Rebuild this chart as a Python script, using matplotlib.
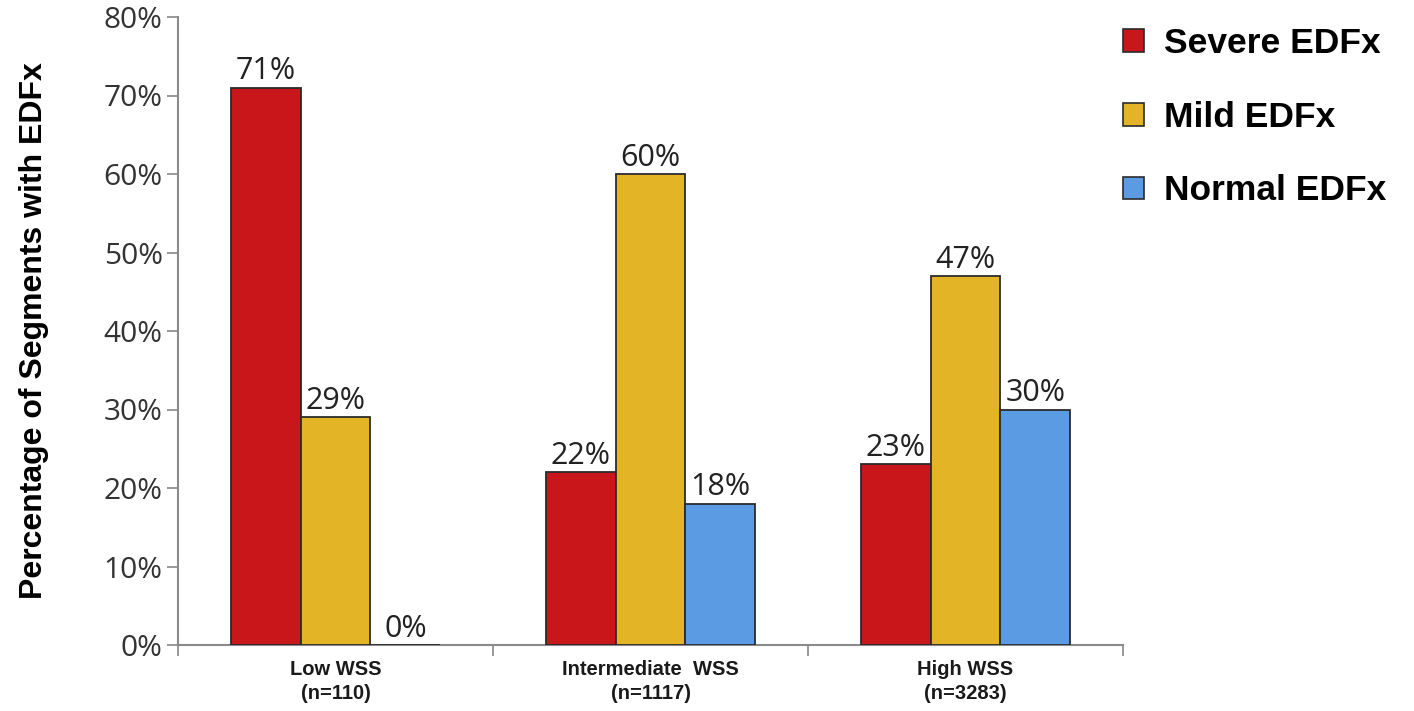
import numpy as np
import matplotlib.pyplot as plt
from matplotlib.patches import Patch

# data
groups = ["Low WSS\n(n=110)", "Intermediate  WSS\n(n=1117)", "High WSS\n(n=3283)"]
series = ["Severe EDFx", "Mild EDFx", "Normal EDFx"]
severe = [71, 22, 23]
mild = [29, 60, 47]
normal = [0, 18, 30]
colors = ["#C8161B", "#E2B426", "#5B9BE3"]

fig = plt.figure(figsize=(14.14, 7.11), dpi=100)
ax = fig.add_axes([178 / 1414, 1 - 645 / 711, (1123 - 178) / 1414, (645 - 17) / 711])

x = np.arange(len(groups))
w = 0.222
for i, (vals, c) in enumerate(zip([severe, mild, normal], colors)):
    bars = ax.bar(x + (i - 1) * w, vals, w, color=c, edgecolor="#2b2b2b",
                  linewidth=1.3, zorder=3)
    ax.bar_label(bars, labels=[f"{v}%" for v in vals], padding=1,
                 fontsize=22, family="Open Sans", color="#222222")

ax.set_xlim(-0.5, 2.5)
ax.set_ylim(0, 80)
ax.set_yticks(range(0, 81, 10))
ax.set_yticklabels([f"{v}%" for v in range(0, 81, 10)], family="Open Sans",
                   fontsize=21.5, color="#333333")
ax.tick_params(axis="y", length=8, width=1.2, color="#888888", pad=3)

# boundary ticks between groups, labels at group centres
ax.set_xticks([-0.5, 0.5, 1.5, 2.5])
ax.set_xticklabels([])
ax.tick_params(axis="x", which="major", length=8, width=1.2, color="#888888")
ax.set_xticks(x, minor=True)
ax.set_xticklabels(groups, minor=True, fontsize=14.5, fontweight="bold",
                   family="Liberation Sans", color="#1a1a1a", linespacing=1.3)
ax.tick_params(axis="x", which="minor", length=0, pad=11)

for s in ["top", "right"]:
    ax.spines[s].set_visible(False)
for s in ["left", "bottom"]:
    ax.spines[s].set_color("#8a8a8a")
    ax.spines[s].set_linewidth(1.5)

ax.set_ylabel("Percentage of Segments with EDFx", fontsize=23,
              fontweight="bold", family="Liberation Sans")
ax.yaxis.set_label_coords(-0.137, 0.5)

handles = [Patch(facecolor=c, edgecolor="#2b2b2b", linewidth=1.2) for c in colors]
fig.legend(handles, series, loc="upper left", bbox_to_anchor=(1123 / 1414, 0.962),
           frameon=False, borderpad=0, borderaxespad=0, handlelength=0.6,
           handleheight=0.6, handletextpad=0.55, labelspacing=1.15,
           prop={"family": "Liberation Sans", "weight": "bold", "size": 25.5})

fig.savefig("out.png", dpi=100)
